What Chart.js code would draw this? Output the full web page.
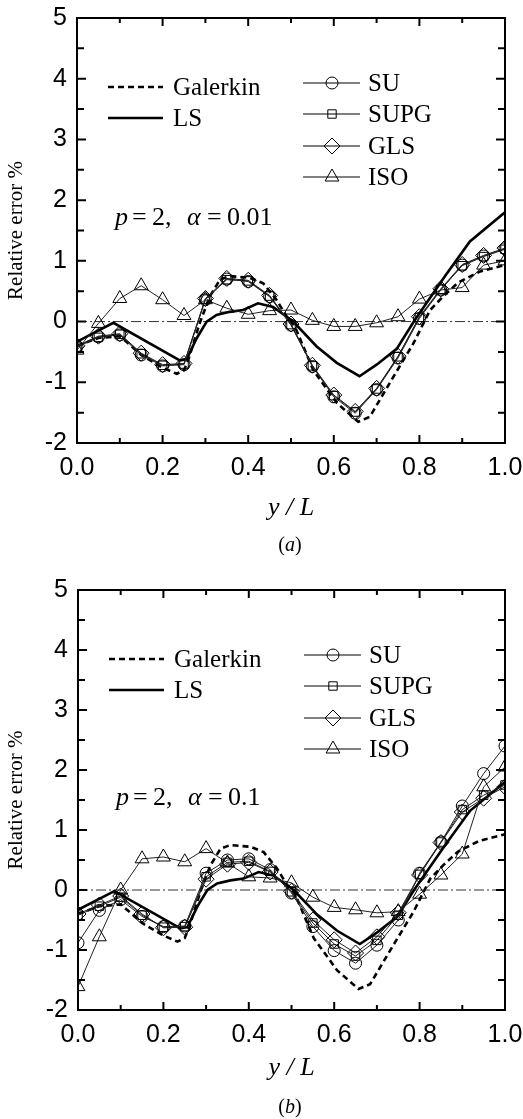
<!DOCTYPE html>
<html>
<head>
<meta charset="utf-8">
<script src="https://cdn.jsdelivr.net/npm/chart.js@4.4.1/dist/chart.umd.min.js"></script>
<style>
  html, body { margin: 0; padding: 0; background: #fff; }
  body { width: 523px; height: 1119px; position: relative; overflow: hidden; }
  canvas { position: absolute; left: 0; }
  #chartA { top: 0; }
  #chartB { top: 560px; }
</style>
</head>
<body>
<canvas id="chartA" width="523" height="560"></canvas>
<canvas id="chartB" width="523" height="559"></canvas>
<script>
// node positions (y/L) where the marker series are sampled
var nodeX = [0, 0.05, 0.1, 0.15, 0.2, 0.25, 0.3, 0.35, 0.4, 0.45, 0.5, 0.55, 0.6, 0.65, 0.7, 0.75, 0.8, 0.85, 0.9, 0.95, 1.0];

// panel (a), alpha = 0.01
var suA   = [-0.41, -0.25, -0.22, -0.55, -0.73, -0.71, 0.36, 0.70, 0.66, 0.41, -0.06, -0.74, -1.24, -1.51, -1.12, -0.60, 0.05, 0.52, 0.93, 1.08, 1.20];
var supgA = [-0.42, -0.26, -0.21, -0.53, -0.72, -0.70, 0.37, 0.69, 0.67, 0.42, -0.05, -0.73, -1.22, -1.49, -1.11, -0.58, 0.07, 0.53, 0.92, 1.07, 1.19];
var glsA  = [-0.40, -0.24, -0.20, -0.52, -0.71, -0.69, 0.38, 0.71, 0.68, 0.43, -0.04, -0.72, -1.21, -1.48, -1.10, -0.57, 0.08, 0.54, 0.94, 1.09, 1.21];
var isoA  = [-0.47, -0.03, 0.38, 0.59, 0.36, 0.10, 0.36, 0.22, 0.12, 0.18, 0.19, 0.02, -0.08, -0.08, -0.02, 0.08, 0.37, 0.52, 0.56, 0.93, 1.00];

// panel (b), alpha = 0.1
var suB   = [-0.88, -0.34, -0.16, -0.44, -0.61, -0.60, 0.28, 0.50, 0.52, 0.34, -0.05, -0.61, -1.01, -1.22, -0.92, -0.50, 0.28, 0.80, 1.40, 1.94, 2.40];
var supgB = [-0.42, -0.27, -0.12, -0.42, -0.62, -0.61, 0.22, 0.46, 0.48, 0.31, -0.03, -0.55, -0.90, -1.10, -0.84, -0.42, 0.26, 0.80, 1.34, 1.58, 1.75];
var glsB  = [-0.40, -0.25, -0.10, -0.40, -0.63, -0.62, 0.18, 0.43, 0.46, 0.30, -0.02, -0.50, -0.83, -1.05, -0.78, -0.38, 0.25, 0.79, 1.30, 1.53, 1.72];
var isoB  = [-1.61, -0.78, 0.00, 0.52, 0.55, 0.47, 0.69, 0.45, 0.22, 0.20, 0.12, -0.12, -0.29, -0.33, -0.38, -0.36, -0.07, 0.25, 0.60, 1.72, 2.05];

// Galerkin and LS curves (same in both panels)
var galerkinX = [0, 0.05, 0.1, 0.128, 0.15, 0.2, 0.233, 0.25, 0.26, 0.287, 0.31, 0.334, 0.357, 0.404, 0.435, 0.466, 0.49, 0.509, 0.552, 0.607, 0.657, 0.684, 0.735, 0.786, 0.825, 0.855, 0.89, 0.94, 1.0];
var galerkinY = [-0.40, -0.27, -0.24, -0.41, -0.55, -0.76, -0.86, -0.80, -0.63, -0.02, 0.41, 0.69, 0.75, 0.72, 0.63, 0.36, 0.08, -0.08, -0.80, -1.34, -1.65, -1.57, -0.96, -0.36, 0.19, 0.41, 0.64, 0.82, 0.93];
var lsX = [0, 0.085, 0.24, 0.256, 0.28, 0.303, 0.326, 0.357, 0.388, 0.423, 0.458, 0.49, 0.505, 0.56, 0.607, 0.66, 0.70, 0.747, 0.787, 0.86, 0.918, 1.0];
var lsY = [-0.33, -0.02, -0.64, -0.62, -0.27, 0.00, 0.11, 0.16, 0.19, 0.30, 0.24, 0.08, 0.00, -0.41, -0.68, -0.90, -0.71, -0.45, 0.00, 0.75, 1.32, 1.80];

// ticks
var xTickVals = [0, 0.2, 0.4, 0.6, 0.8, 1.0];
var xTickLabels = ["0.0", "0.2", "0.4", "0.6", "0.8", "1.0"];
var yTickVals = [-2, -1, 0, 1, 2, 3, 4, 5];
var yTickLabels = ["-2", "-1", "0", "1", "2", "3", "4", "5"];

function pts(xs, ys) {
  return xs.map(function (x, i) { return { x: x, y: ys[i] }; });
}

function drawMarker(ctx, style, x, y) {
  ctx.beginPath();
  if (style === "circle") {
    ctx.arc(x, y, 6, 0, Math.PI * 2);
  } else if (style === "rect") {
    ctx.rect(x - 4.2, y - 4.2, 8.4, 8.4);
  } else if (style === "rectRot") {
    ctx.moveTo(x, y - 8); ctx.lineTo(x + 8, y); ctx.lineTo(x, y + 8); ctx.lineTo(x - 8, y); ctx.closePath();
  } else {
    ctx.moveTo(x, y - 8); ctx.lineTo(x + 6.9, y + 4); ctx.lineTo(x - 6.9, y + 4); ctx.closePath();
  }
  ctx.stroke();
}

var framePlugin = {
  id: "frame",
  beforeDatasetsDraw: function (chart) {
    var ctx = chart.ctx, a = chart.chartArea, y0 = chart.scales.y.getPixelForValue(0);
    ctx.save();
    ctx.strokeStyle = "#333";
    ctx.lineWidth = 1;
    ctx.setLineDash([10, 3, 2, 3]);
    ctx.beginPath();
    ctx.moveTo(a.left, y0);
    ctx.lineTo(a.right, y0);
    ctx.stroke();
    ctx.restore();
  },
  afterDraw: function (chart) {
    var ctx = chart.ctx, a = chart.chartArea, sx = chart.scales.x, sy = chart.scales.y;
    var o = chart.options.plugins.frame;
    ctx.save();
    ctx.strokeStyle = "#000";
    ctx.fillStyle = "#000";
    ctx.lineWidth = 2;
    ctx.strokeRect(a.left, a.top, a.right - a.left, a.bottom - a.top);
    // inward ticks on all four sides
    var i, v, p, len;
    for (i = 1; i < 10; i++) {
      v = i / 10;
      p = sx.getPixelForValue(v);
      len = (i % 2 === 0) ? 8 : 5;
      ctx.beginPath();
      ctx.moveTo(p, a.bottom); ctx.lineTo(p, a.bottom - len);
      ctx.moveTo(p, a.top); ctx.lineTo(p, a.top + len);
      ctx.stroke();
    }
    for (i = -3; i < 10; i++) {
      v = i / 2;
      p = sy.getPixelForValue(v);
      len = (i % 2 === 0) ? 9 : 7;
      ctx.beginPath();
      ctx.moveTo(a.left, p); ctx.lineTo(a.left + len, p);
      ctx.moveTo(a.right, p); ctx.lineTo(a.right - len, p);
      ctx.stroke();
    }

    // legend
    var L = a.left, T = a.top;
    ctx.font = "25px 'Liberation Serif'";
    ctx.textBaseline = "middle";
    ctx.textAlign = "left";
    ctx.lineWidth = 2.5;
    ctx.setLineDash([6, 4]);
    ctx.beginPath(); ctx.moveTo(L + 31, T + 69); ctx.lineTo(L + 86, T + 69); ctx.stroke();
    ctx.setLineDash([]);
    ctx.beginPath(); ctx.moveTo(L + 31, T + 100); ctx.lineTo(L + 86, T + 100); ctx.stroke();
    ctx.fillText("Galerkin", L + 96, T + 70);
    ctx.fillText("LS", L + 96, T + 101);
    var items = [["SU", "circle", 65], ["SUPG", "rect", 96], ["GLS", "rectRot", 128], ["ISO", "triangle", 159]];
    ctx.lineWidth = 1;
    items.forEach(function (it) {
      var yy = T + it[2];
      ctx.beginPath(); ctx.moveTo(L + 226, yy); ctx.lineTo(L + 283, yy); ctx.stroke();
      drawMarker(ctx, it[1], L + 255, yy);
      ctx.fillText(it[0], L + 291, yy + 1);
    });

    // annotation: p = 2,  alpha = ...
    var ax = L + 38, ay = T + o.annotY;
    ctx.font = "italic 26px 'Liberation Serif'";
    ctx.fillText("p", ax, ay);
    ctx.fillText("\u03b1", ax + 72, ay);
    ctx.font = "26px 'Liberation Serif'";
    ctx.fillText("=", ax + 17, ay);
    ctx.fillText("2,", ax + 37, ay);
    ctx.fillText("=", ax + 92, ay);
    ctx.fillText(o.alpha, ax + 112, ay);

    // caption (a) / (b)
    var cx = 290, cy = o.captionY;
    ctx.font = "20px 'Liberation Serif'";
    var w1 = ctx.measureText("(").width;
    ctx.font = "italic 20px 'Liberation Serif'";
    var w2 = ctx.measureText(o.caption).width;
    ctx.font = "20px 'Liberation Serif'";
    var w3 = ctx.measureText(")").width;
    var sx0 = cx - (w1 + w2 + w3) / 2;
    ctx.fillText("(", sx0, cy);
    ctx.fillText(")", sx0 + w1 + w2, cy);
    ctx.font = "italic 20px 'Liberation Serif'";
    ctx.fillText(o.caption, sx0 + w1, cy);
    ctx.restore();
  }
};

function makeChart(id, su, supg, gls, iso, cfg) {
  var thin = { borderColor: "#222", borderWidth: 1, pointBorderColor: "#000", pointBorderWidth: 1,
               pointBackgroundColor: "rgba(0,0,0,0)", tension: 0 };
  return new Chart(document.getElementById(id), {
    type: "line",
    data: {
      datasets: [
        Object.assign({ label: "SU", data: pts(nodeX, su), pointStyle: "circle", pointRadius: 6 }, thin),
        Object.assign({ label: "SUPG", data: pts(nodeX, supg), pointStyle: "rect", pointRadius: 6 }, thin),
        Object.assign({ label: "GLS", data: pts(nodeX, gls), pointStyle: "rectRot", pointRadius: 8 }, thin),
        Object.assign({ label: "ISO", data: pts(nodeX, iso), pointStyle: "triangle", pointRadius: 8 }, thin),
        { label: "LS", data: pts(lsX, lsY), borderColor: "#000", borderWidth: 2.6, pointRadius: 0, tension: 0 },
        { label: "Galerkin", data: pts(galerkinX, galerkinY), borderColor: "#000", borderWidth: 2.6,
          borderDash: [6, 4], pointRadius: 0, tension: 0 }
      ]
    },
    options: {
      animation: false,
      responsive: false,
      devicePixelRatio: 1,
      events: [],
      layout: { padding: { top: cfg.padTop, right: 18, bottom: cfg.padBottom, left: 0 } },
      plugins: {
        legend: { display: false },
        tooltip: { enabled: false },
        frame: { alpha: cfg.alpha, annotY: cfg.annotY, caption: cfg.caption, captionY: cfg.captionY }
      },
      scales: {
        x: {
          type: "linear", min: 0, max: 1,
          afterBuildTicks: function (s) { s.ticks = xTickVals.map(function (v) { return { value: v }; }); },
          afterFit: function (s) { s.height = cfg.xHeight; s.paddingLeft = 0; s.paddingRight = 0; },
          grid: { display: false, drawTicks: false },
          border: { display: false },
          ticks: { padding: 10, color: "#000", font: { family: "Liberation Sans", size: 25 },
                   callback: function (v, i) { return xTickLabels[i]; } },
          title: { display: true, text: "y / L", color: "#000",
                   font: { family: "Liberation Serif", size: 26, style: "italic" }, padding: { top: 0, bottom: 0 } }
        },
        y: {
          type: "linear", min: -2, max: 5,
          afterBuildTicks: function (s) { s.ticks = yTickVals.map(function (v) { return { value: v }; }); },
          afterFit: function (s) { s.width = cfg.yWidth; s.paddingTop = 0; s.paddingBottom = 0; },
          grid: { display: false, drawTicks: false },
          border: { display: false },
          ticks: { padding: 10, color: "#000", font: { family: "Liberation Sans", size: 25 },
                   callback: function (v, i) { return yTickLabels[i]; } },
          title: { display: true, text: "Relative error %", color: "#000",
                   font: { family: "Liberation Serif", size: 21 }, padding: { top: 4, bottom: 0 } }
        }
      }
    },
    plugins: [framePlugin]
  });
}

makeChart("chartA", suA, supgA, glsA, isoA,
  { padTop: 18, padBottom: 36, xHeight: 81, yWidth: 77, alpha: "0.01", annotY: 200, caption: "a", captionY: 546 });
makeChart("chartB", suB, supgB, glsB, isoB,
  { padTop: 30, padBottom: 35, xHeight: 74, yWidth: 78, alpha: "0.1", annotY: 208, caption: "b", captionY: 548 });
</script>
</body>
</html>
